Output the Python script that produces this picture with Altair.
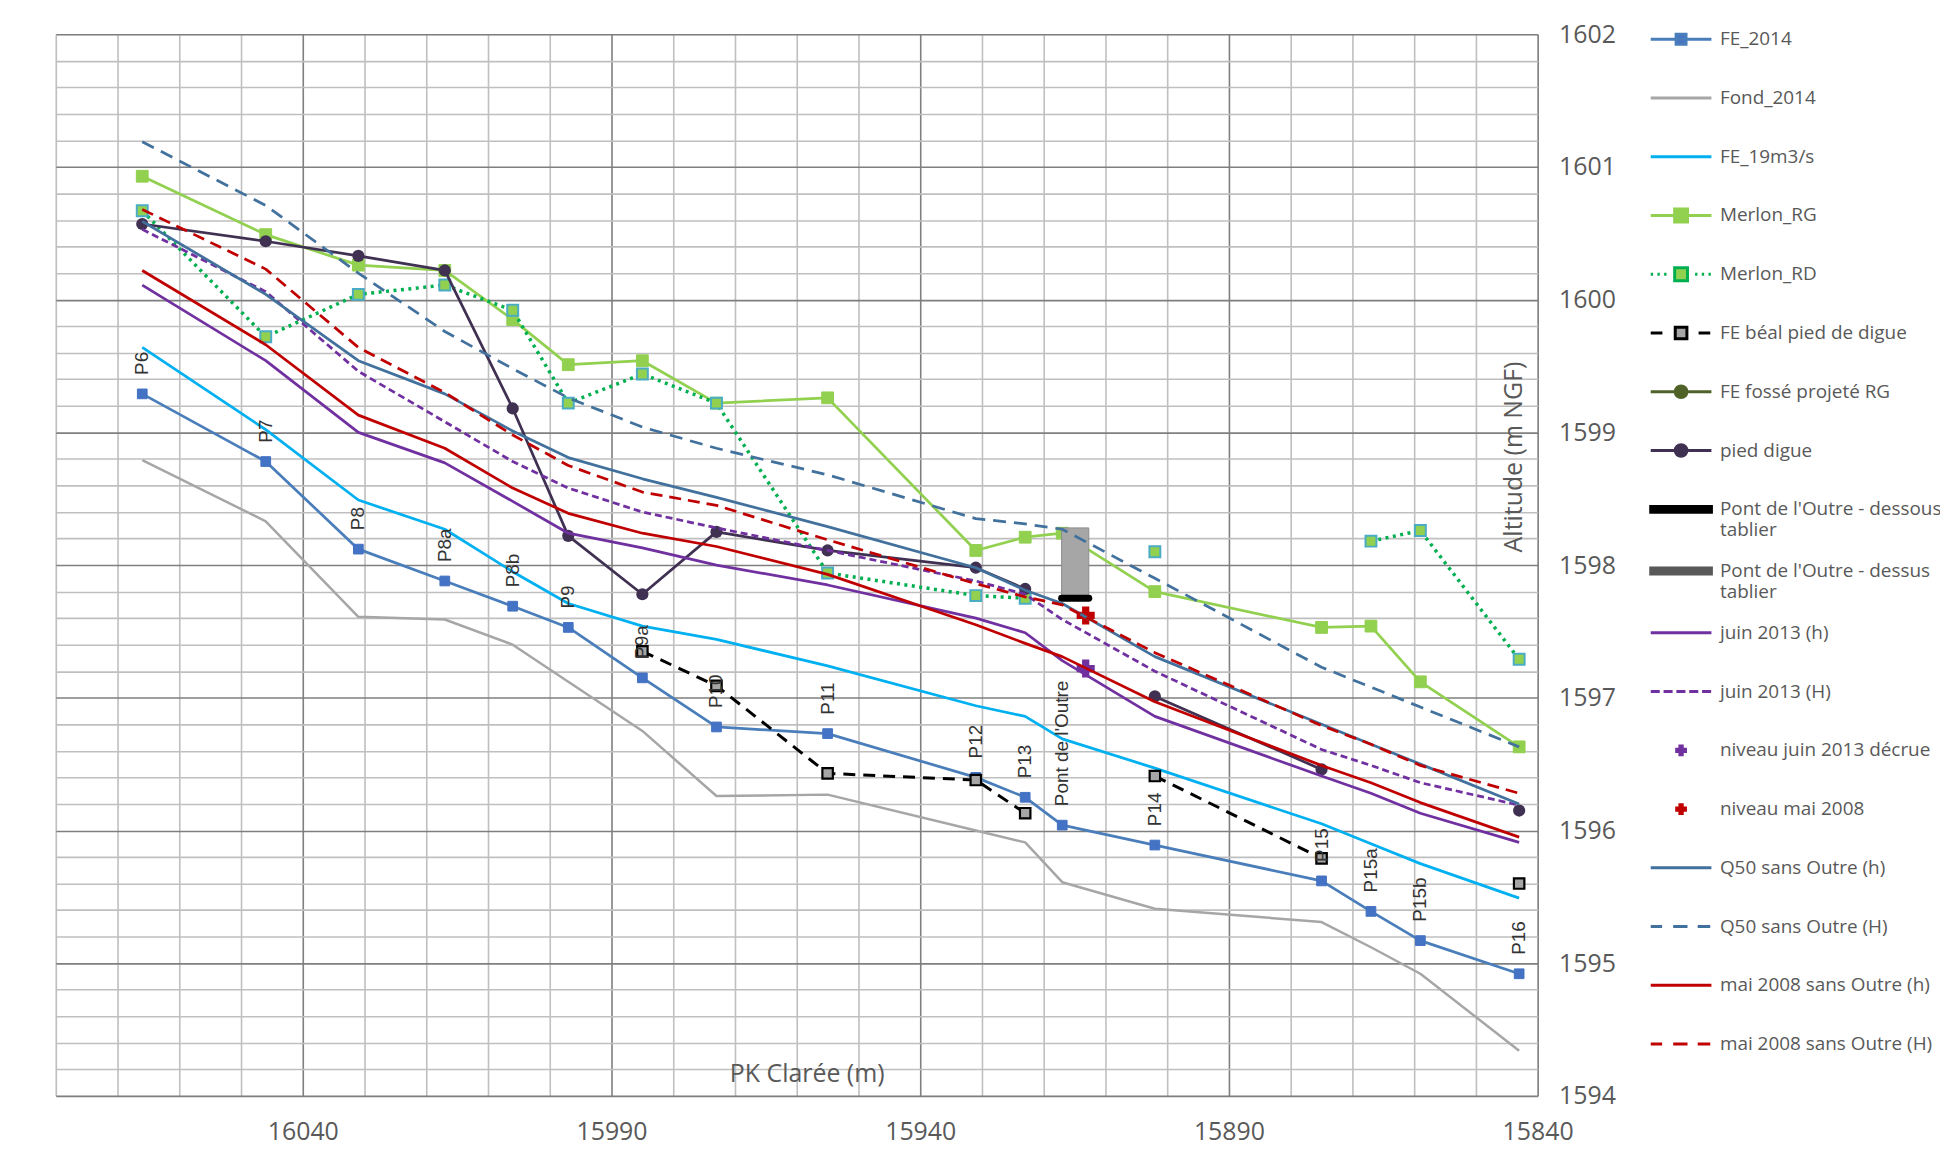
import altair as alt
import pandas as pd

# ---------------- data ----------------
pk = [16066, 16046, 16031, 16017, 16006, 15997, 15985, 15973, 15955,
      15931, 15923, 15917, 15902, 15875, 15867, 15859, 15843]
profils = ["P6", "P7", "P8", "P8a", "P8b", "P9", "P9a", "P10", "P11",
           "P12", "P13", "Pont de l'Outre", "P14", "P15", "P15a", "P15b", "P16"]

fe_2014 = [1599.29, 1598.78, 1598.12, 1597.88, 1597.69, 1597.53, 1597.15, 1596.78, 1596.73,
           1596.40, 1596.25, 1596.04, 1595.89, 1595.62, 1595.39, 1595.17, 1594.92]
fond_2014 = [1598.79, 1598.33, 1597.61, 1597.59, 1597.40, 1597.12, 1596.75, 1596.26, 1596.27,
             1596.00, 1595.91, 1595.61, 1595.41, 1595.31, 1595.12, 1594.92, 1594.34]
fe_19 = [1599.64, 1599.02, 1598.49, 1598.27, 1597.95, 1597.71, 1597.54, 1597.44, 1597.24,
         1596.94, 1596.86, 1596.69, 1596.47, 1596.05, 1595.90, 1595.75, 1595.49]
merlon_rg = [1600.93, 1600.49, 1600.26, 1600.22, 1599.85, 1599.51, 1599.54, 1599.22, 1599.26,
             1598.11, 1598.21, 1598.24, 1597.80, 1597.53, 1597.54, 1597.12, 1596.63]
merlon_rd = [1600.67, 1599.72, 1600.04, 1600.11, 1599.92, 1599.22, 1599.44, 1599.22, 1597.94,
             1597.77, 1597.75, None, 1598.10, None, 1598.18, 1598.26, 1597.29]
beal = [None, None, None, None, None, None, 1597.35, 1597.09, 1596.43,
        1596.38, 1596.13, None, 1596.41, 1595.79, None, None, 1595.60]
fosse_rg = [None] * 17
pied_digue = [1600.57, 1600.44, 1600.33, 1600.22, 1599.18, 1598.22, 1597.78, 1598.25, 1598.11,
              1597.98, 1597.82, None, 1597.01, 1596.46, None, None, 1596.15]
juin_h = [1600.11, 1599.54, 1599.00, 1598.77, 1598.48, 1598.24, 1598.13, 1598.00, 1597.85,
          1597.60, 1597.49, 1597.28, 1596.86, 1596.41, 1596.28, 1596.13, 1595.91]
juin_H = [1600.53, 1600.06, 1599.46, 1599.08, 1598.78, 1598.58, 1598.40, 1598.28, 1598.11,
          1597.88, 1597.78, 1597.59, 1597.20, 1596.61, 1596.49, 1596.36, 1596.19]
q50_h = [1600.59, 1600.04, 1599.54, 1599.29, 1599.01, 1598.81, 1598.65, 1598.51, 1598.29,
         1597.98, 1597.81, 1597.71, 1597.31, 1596.80, 1596.65, 1596.50, 1596.20]
q50_H = [1601.19, 1600.71, 1600.20, 1599.76, 1599.48, 1599.26, 1599.04, 1598.88, 1598.68,
         1598.35, 1598.31, 1598.27, 1597.90, 1597.23, 1597.08, 1596.93, 1596.63]
mai_h = [1600.22, 1599.66, 1599.13, 1598.88, 1598.58, 1598.39, 1598.24, 1598.14, 1597.93,
         1597.55, 1597.41, 1597.31, 1596.97, 1596.49, 1596.36, 1596.21, 1595.95]
mai_H = [1600.68, 1600.23, 1599.64, 1599.30, 1598.98, 1598.75, 1598.55, 1598.45, 1598.19,
         1597.86, 1597.76, 1597.70, 1597.34, 1596.79, 1596.65, 1596.49, 1596.28]

pont_pk = [15917.1, 15912.7]
pont_dessous = [1597.75, 1597.75]
pont_dessus = [1598.28, 1598.28]

niveau_pk = [15913.2]
niveau_juin_2013 = [1597.22]
niveau_mai_2008 = [1597.62]

legend_names = ["FE_2014", "Fond_2014", "FE_19m3/s", "Merlon_RG", "Merlon_RD",
                "FE béal pied de digue", "FE fossé projeté RG", "pied digue",
                "Pont de l'Outre - dessous tablier", "Pont de l'Outre - dessus tablier",
                "juin 2013 (h)", "juin 2013 (H)", "niveau juin 2013 décrue", "niveau mai 2008",
                "Q50 sans Outre (h)", "Q50 sans Outre (H)", "mai 2008 sans Outre (h)",
                "mai 2008 sans Outre (H)"]

# ---------------- styles ----------------
C_FE = "#4A7EBB"; C_FEM = "#4472C4"; C_FOND = "#A6A6A6"; C_19 = "#00B0F0"
C_RG = "#92D050"; C_RD = "#00B050"; C_RDB = "#4BACC6"; C_BLK = "#000000"
C_FOS = "#4F6228"; C_PD = "#403152"; C_DES = "#595959"; C_J = "#7030A0"
C_Q = "#41719C"; C_M = "#C00000"

BOUND = "M0,-0.725M0,0.725"          # gives every legend entry the same height
LINE = "M-1.04,0H1.04"
def sq(h):
    return f"M-{h},-{h}H{h}V{h}H-{h}Z"
def circ(r):
    return f"M{r},0A{r},{r},0,1,1,-{r},0A{r},{r},0,1,1,{r},0Z"
PLUS = "M-0.04,-0.15H0.04V-0.04H0.15V0.04H0.04V0.15H-0.04V0.04H-0.15V-0.04H-0.04Z"
DOTS = "".join(f"M{a},0h0.08" for a in [-1.04, -0.81, -0.58, 0.48, 0.71, 0.94])
SHORTDASH = "M-1.04,0H-0.73M-0.6,0H-0.29M-0.16,0H0.15M0.28,0H0.59M0.72,0H1.03"
LONGDASH = "M-1.04,0H-0.65M-0.27,0H0.22M0.57,0H1.0"
BAR = "M-1.04,-0.1H1.04V0.1H-1.04Z"

legend_paths = [LINE + sq(0.17), LINE, LINE, LINE + sq(0.22), DOTS + sq(0.22),
                "M-1.04,0H-0.64M0.6,0H1.0" + sq(0.2), LINE + circ(0.2), LINE + circ(0.2),
                BAR, BAR, LINE, SHORTDASH, PLUS, PLUS, LINE, LONGDASH, LINE, LONGDASH]
legend_paths = [p + BOUND for p in legend_paths]
legend_stroke = [C_FE, C_FOND, C_19, C_RG, C_RD, C_BLK, C_FOS, C_PD, C_BLK, C_DES,
                 C_J, C_J, C_J, C_M, C_Q, C_Q, C_M, C_M]
legend_fill = [C_FEM, C_FOND, C_19, C_RG, C_RG, C_FOND, C_FOS, C_PD, C_BLK, C_DES,
               C_J, C_J, C_J, C_M, C_Q, C_Q, C_M, C_M]

# ---------------- long table ----------------
series_data = [("FE_2014", fe_2014), ("Fond_2014", fond_2014), ("FE_19m3/s", fe_19),
               ("Merlon_RG", merlon_rg), ("Merlon_RD", merlon_rd),
               ("FE béal pied de digue", beal), ("FE fossé projeté RG", fosse_rg),
               ("pied digue", pied_digue), ("juin 2013 (h)", juin_h), ("juin 2013 (H)", juin_H),
               ("Q50 sans Outre (h)", q50_h), ("Q50 sans Outre (H)", q50_H),
               ("mai 2008 sans Outre (h)", mai_h), ("mai 2008 sans Outre (H)", mai_H)]
rows = []
for name, vals in series_data:
    seg = 0
    for p, v in zip(pk, vals):
        if v is None:
            seg += 1
            continue
        rows.append({"series": name, "seg": seg, "pk": p, "z": v})
df = pd.DataFrame(rows)

df_lab = pd.DataFrame({"pk": pk, "z": fe_2014, "profil": profils})
df_bridge_line = pd.DataFrame({"pk": pont_pk, "z": pont_dessous})
df_bridge_box = pd.DataFrame({"pk": [pont_pk[0]], "pk2": [pont_pk[1]],
                              "z": [pont_dessous[0]], "z2": [pont_dessus[0]]})
df_niv = pd.DataFrame({"pk": niveau_pk * 2, "z": niveau_juin_2013 + niveau_mai_2008,
                       "series": ["niveau juin 2013 décrue", "niveau mai 2008"]})

# ---------------- scales / axes ----------------
W, H = 1488, 1066
FONT = "Open Sans"
GREY = "#595959"
x_ticks = list(range(15840, 16081, 10))
y_ticks = [round(1594 + 0.2 * i, 1) for i in range(41)]

x_scale = alt.Scale(domain=[15840, 16080], reverse=True, nice=False, zero=False)
y_scale = alt.Scale(domain=[1594, 1602], nice=False, zero=False)

x_axis = alt.Axis(
    orient="bottom", values=x_ticks, tickCount=200, tickMinStep=0.01,
    labelExpr="(datum.value - 15840) % 50 == 0 && datum.value < 16080 ? format(datum.value, 'd') : ''",
    grid=True,
    gridColor={"condition": {"test": "(datum.value - 15840) % 50 == 0", "value": "#7F7F7F"},
               "value": "#BFBFBF"},
    gridWidth=1.6, ticks=False, tickSize=0, domain=False,
    labelFont=FONT, labelFontSize=25, labelColor=GREY, labelPadding=24,
    labelFlush=False, labelOverlap=False,
    title="PK Clarée (m)", titleFont=FONT, titleFontSize=25, titleFontWeight="normal",
    titleColor=GREY, titleX=754, titleY=-22, titleAlign="center", titleBaseline="middle")

y_axis = alt.Axis(
    orient="right", values=y_ticks, tickCount=200, tickMinStep=0.01,
    labelExpr="abs(datum.value - round(datum.value)) < 0.001 ? format(datum.value, 'd') : ''",
    grid=True,
    gridColor={"condition": {"test": "abs(datum.value - round(datum.value)) < 0.001",
                             "value": "#7F7F7F"}, "value": "#BFBFBF"},
    gridWidth=1.6, ticks=False, tickSize=0, domain=False,
    labelFont=FONT, labelFontSize=25, labelColor=GREY, labelPadding=21,
    labelFlush=False, labelOverlap=False, labelBaseline="middle",
    title="Altitude (m NGF)", titleFont=FONT, titleFontSize=25, titleFontWeight="normal",
    titleColor=GREY, titleAngle=270, titleX=-24, titleY=424,
    titleAlign="center", titleBaseline="middle")

X = alt.X("pk:Q", scale=x_scale, axis=x_axis)
Y = alt.Y("z:Q", scale=y_scale, axis=y_axis)

base = alt.Chart(df).encode(x=X, y=Y)


def line(name, color, width=2.75, dash=None):
    kw = dict(color=color, strokeWidth=width, strokeJoin="round")
    if dash:
        kw["strokeDash"] = dash
    return base.transform_filter(alt.datum.series == name).mark_line(**kw).encode(detail="seg:N")


def squares(name, fill, stroke, size, sw=1):
    return base.transform_filter(alt.datum.series == name).mark_square(
        filled=True, fill=fill, stroke=stroke, strokeWidth=sw, size=size, opacity=1)


def circles(name, color, size):
    return base.transform_filter(alt.datum.series == name).mark_circle(
        color=color, size=size, opacity=1)


layers = [
    line("FE_2014", C_FE), squares("FE_2014", C_FEM, C_FEM, 95),
    line("Fond_2014", C_FOND, 2.5),
    line("FE_19m3/s", C_19),
    line("Merlon_RG", C_RG), squares("Merlon_RG", C_RG, C_RG, 140),
    line("Merlon_RD", C_RD, 3.5, [3, 4.5]), squares("Merlon_RD", C_RG, C_RDB, 120, 2),
    line("FE béal pied de digue", C_BLK, 3, [12, 8]),
    squares("FE béal pied de digue", C_FOND, C_BLK, 110, 2.2),
    line("pied digue", C_PD), circles("pied digue", C_PD, 150),
]

box = alt.Chart(df_bridge_box).mark_rect(fill="#A6A6A6", stroke="#8C8C8C", strokeWidth=1).encode(
    x=X, x2="pk2:Q", y=Y, y2="z2:Q")
bar = alt.Chart(df_bridge_line).mark_line(color=C_BLK, strokeWidth=7, strokeCap="round").encode(
    x=X, y=Y)
layers += [box, bar]

layers += [line("juin 2013 (h)", C_J), line("juin 2013 (H)", C_J, 2.75, [7, 4])]

niv = alt.Chart(df_niv).mark_point(shape="cross", filled=True, size=330, opacity=1).encode(
    x=X, y=Y,
    color=alt.Color("series:N", scale=alt.Scale(domain=["niveau juin 2013 décrue", "niveau mai 2008"],
                                                range=[C_J, C_M]), legend=None))
layers.append(niv)

layers += [line("Q50 sans Outre (h)", C_Q), line("Q50 sans Outre (H)", C_Q, 2.75, [13, 8]),
           line("mai 2008 sans Outre (h)", C_M), line("mai 2008 sans Outre (H)", C_M, 2.75, [12, 7])]

labels = alt.Chart(df_lab).mark_text(angle=270, align="left", baseline="middle", dx=19,
                                     font="Liberation Sans", fontSize=19, color="#333333").encode(
    x=X, y=Y, text="profil:N")
layers.append(labels)

leg = alt.Legend(orient="none", legendX=1601, legendY=-26, title=None, padding=0,
                 direction="vertical", rowPadding=0, symbolSize=3434, symbolStrokeWidth=3,
                 labelFont=FONT, labelFontSize=19, labelColor=GREY, labelLimit=400,
                 labelOffset=8,
                 labelExpr="indexof(datum.label, ' tablier') > 0 ? "
                           "[replace(datum.label, ' tablier', ''), 'tablier'] : datum.label")
legend_layer = base.transform_filter("false").mark_point(
    filled=True, opacity=1, size=3434, strokeWidth=3).encode(
    shape=alt.Shape("series:N", scale=alt.Scale(domain=legend_names, range=legend_paths), legend=leg),
    fill=alt.Fill("series:N", scale=alt.Scale(domain=legend_names, range=legend_fill), legend=leg),
    stroke=alt.Stroke("series:N", scale=alt.Scale(domain=legend_names, range=legend_stroke), legend=leg),
)
layers.append(legend_layer)

chart = alt.layer(*layers).properties(
    width=W, height=H,
    autosize=alt.AutoSizeParams(type="none"),
    padding={"left": 48, "top": 24, "right": 404, "bottom": 52},
).configure_view(stroke="#7F7F7F", strokeWidth=2).configure(background="white")

chart.save("out.html", embed_options={"renderer": "svg", "actions": False})
